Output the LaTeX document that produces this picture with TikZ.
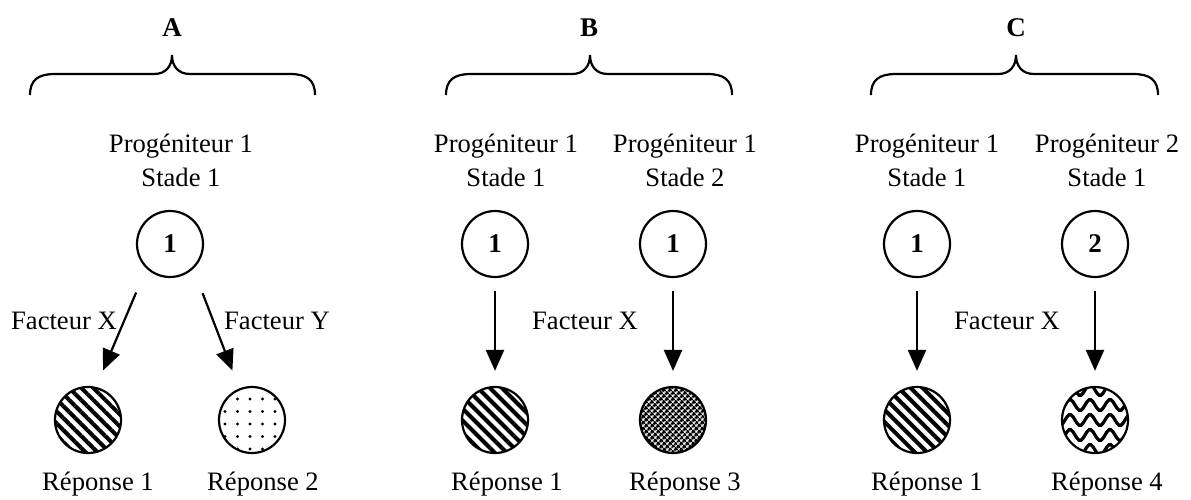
\documentclass[tikz,border=0pt]{standalone}
\usepackage{fontspec}
\setmainfont{Liberation Serif}
\usetikzlibrary{arrows.meta, patterns.meta}

\begin{document}
\begin{tikzpicture}[x=1pt, y=-1pt,
    every node/.style={font=\fontsize{26.6}{34}\selectfont, inner sep=0pt},
    title/.style={font=\fontsize{27}{34}\selectfont\bfseries},
    cell/.style={circle, draw, line width=2.2pt, minimum size=66pt,
                 font=\fontsize{27}{30}\selectfont\bfseries},
    resp/.style={circle, draw, line width=2.2pt, minimum size=66pt},
    hatched/.style={resp, pattern={Lines[angle=-45, distance=8.5pt, line width=4pt]}},
    stippled/.style={resp, pattern={Dots[distance=12.5pt, radius=1.6pt]}},
    meshed/.style={resp, pattern={Hatch[angle=45, distance=4pt, line width=2.1pt]}},
    wavy/.style={resp, path picture={
        \foreach \k in {-3,...,3}
          \draw[line width=3.2pt, shift={(path picture bounding box.center)}]
            plot[domain=-40:40, samples=41, smooth] (\x, {\k*15 + 5.5*sin(18*\x)});
      }},
    flow/.style={-{Triangle[length=21pt, width=18pt]}, line width=2.2pt},
    brace line/.style={line width=2.2pt}
  ]
          \useasboundingbox (0,0) rectangle (1191,499);

          % braces
          \foreach \l/\t/\r in {30/172/315, 446/590/732, 871/1016/1158}
            \draw[brace line] (\l,95) .. controls (\l,80) and (\l+8,74) .. (\l+25,74)
                  -- (\t-18,74) .. controls (\t-6,74) and (\t,66) .. (\t,55)
                  .. controls (\t,66) and (\t+6,74) .. (\t+18,74)
                  -- (\r-25,74) .. controls (\r-8,74) and (\r,80) .. (\r,95);

          \node[title, anchor=base] (ta) at (172,36) {A};
          \node[title, anchor=base] (tb) at (589,36) {B};
          \node[title, anchor=base] (tc) at (1016,36) {C};

          % A
          \node[align=center] (la) at (181,160) {Progéniteur 1\\Stade 1};
          \node[cell] (pa) at (170,244) {1};
          \node[hatched] (ra1) at (88,420) {};
          \node[stippled] (ra2) at (252,420) {};
          \node[anchor=base] (fa1) at (64,329) {Facteur X};
          \node[anchor=base] (fa2) at (277,329) {Facteur Y};
          \node[anchor=base] (na1) at (98,490) {Réponse 1};
          \node[anchor=base] (na2) at (263,490) {Réponse 2};

          \draw[flow, shorten <=26pt, shorten >=17pt] (pa.226) -- (ra1.76);
          \draw[flow, shorten <=26pt, shorten >=19pt] (pa.313) -- (ra2.112);

          % B
          \node[align=center] (lb1) at (506,160) {Progéniteur 1\\Stade 1};
          \node[align=center] (lb2) at (685,160) {Progéniteur 1\\Stade 2};
          \node[cell] (pb1) at (495,244) {1};
          \node[cell] (pb2) at (673,244) {1};
          \node[hatched] (rb1) at (495,420) {};
          \node[meshed] (rb2) at (673,420) {};
          \node[anchor=base] (fb) at (585,329) {Facteur X};
          \node[anchor=base] (nb1) at (507,490) {Réponse 1};
          \node[anchor=base] (nb2) at (685,490) {Réponse 3};

          \draw[flow, shorten <=13pt, shorten >=15pt] (pb1) -- (rb1);
          \draw[flow, shorten <=13pt, shorten >=15pt] (pb2) -- (rb2);

          % C
          \node[align=center] (lc1) at (927,160) {Progéniteur 1\\Stade 1};
          \node[align=center] (lc2) at (1107,160) {Progéniteur 2\\Stade 1};
          \node[cell] (pc1) at (917,244) {1};
          \node[cell] (pc2) at (1095,244) {2};
          \node[hatched] (rc1) at (917,420) {};
          \node[wavy] (rc2) at (1095,420) {};
          \node[anchor=base] (fc) at (1007,329) {Facteur X};
          \node[anchor=base] (nc1) at (927,490) {Réponse 1};
          \node[anchor=base] (nc2) at (1107,490) {Réponse 4};

          \draw[flow, shorten <=13pt, shorten >=15pt] (pc1) -- (rc1);
          \draw[flow, shorten <=13pt, shorten >=15pt] (pc2) -- (rc2);

        \end{tikzpicture}
\end{document}
